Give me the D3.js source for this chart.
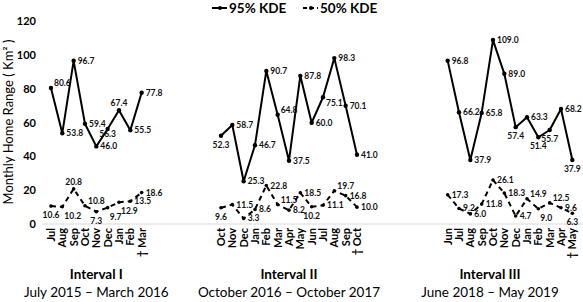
<!DOCTYPE html>
<html>
<head>
<meta charset="utf-8">
<script src="https://cdn.jsdelivr.net/npm/d3@7"></script>
<style>
  body { margin: 0; background: #fff; }
  svg { font-family: Lato, "Open Sans", sans-serif; }
</style>
</head>
<body>
<div id="chart"></div>
<script>
// months per interval ("† " marks the last month)
const months1 = ["Jul", "Aug", "Sep", "Oct", "Nov", "Dec", "Jan", "Feb", "† Mar"];
const months2 = ["Oct", "Nov", "Dec", "Jan", "Feb", "Mar", "Apr", "May", "Jun", "Jul", "Aug", "Sep", "† Oct"];
const months3 = ["Jun", "Jul", "Aug", "Sep", "Oct", "Nov", "Dec", "Jan", "Feb", "Mar", "Apr", "† May"];

// 95% KDE home range (km²)
const kde95_1 = [80.6, 53.8, 96.7, 59.4, 46.0, 56.3, 67.4, 55.5, 77.8];
const kde95_2 = [52.3, 58.7, 25.3, 46.7, 90.7, 64.8, 37.5, 87.8, 60.0, 75.1, 98.3, 70.1, 41.0];
const kde95_3 = [96.8, 66.2, 37.9, 65.8, 109.0, 89.0, 57.4, 63.3, 51.4, 55.7, 68.2, 37.9];

// 50% KDE home range (km²)
const kde50_1 = [10.6, 10.2, 20.8, 10.8, 7.3, 9.7, 12.9, 13.5, 18.6];
const kde50_2 = [9.6, 11.5, 3.3, 8.6, 22.8, 11.5, 8.2, 18.5, 10.2, 11.1, 19.7, 16.8, 10.0];
const kde50_3 = [17.3, 9.2, 6.0, 11.8, 26.1, 18.3, 4.7, 14.9, 9.0, 12.5, 9.6, 6.3];

const intervalNames = ["Interval I", "Interval II", "Interval III"];
const intervalRanges = ["July 2015 \u2013 March 2016", "October 2016 \u2013 October 2017", "June 2018 \u2013 May 2019"];
const yTicks = [0, 20, 40, 60, 80, 100, 120];
const seriesNames = ["95% KDE", "50% KDE"];

// ---- layout ----
const width = 583, height = 302;
const gaps = [6, 7];           // empty category slots between intervals
const titleShift = [0, 0, -20];
// label placement: r = right, ra = right-above, rb = right-below, a = above, b = below, br = below-right, c = centered just below
const place95 = [
    ["ra", "r", "r", "r", "r", "c", "a", "r", "r"],
    ["b", "r", "r", "r", "r", "ra", "r", "r", "r", "rb", "r", "r", "r"],
    ["r", "r", "r", "r", "r", "r", "b", "r", "b", "b", "r", "b"]
];
const place50 = [
    ["b", "br", "a", "ra", "b", "br", "br", "r", "r"],
    ["b", "r", "r", "r", "r", "ra", "r", "r", "b", "r", "ra", "r", "r"],
    ["r", "r", "r", "r", "r", "r", "r", "ra", "br", "ra", "r", "b"]
];

const intervals = [
    {months: months1, k95: kde95_1, k50: kde50_1},
    {months: months2, k95: kde95_2, k50: kde50_2},
    {months: months3, k95: kde95_3, k50: kde50_3}
];

// build slot ids for the band scale
const slots = [];
intervals.forEach((iv, i) => {
    iv.months.forEach((m, j) => slots.push(`m${i}_${j}`));
    if (i < gaps.length) for (let g = 0; g < gaps[i]; g++) slots.push(`gap${i}_${g}`);
});

const x = d3.scaleBand().domain(slots).range([45.3, 578]).padding(0);
const xc = id => x(id) + x.bandwidth() / 2;
const y = d3.scaleLinear().domain([0, 120]).range([224, 21.5]);

const svg = d3.select("#chart").append("svg")
    .attr("width", width)
    .attr("height", height);

// baseline
svg.append("line")
    .attr("x1", 42).attr("x2", width)
    .attr("y1", y(0)).attr("y2", y(0))
    .attr("stroke", "#d9d9d9").attr("stroke-width", 1);

// y tick labels
svg.append("g").selectAll("text")
    .data(yTicks)
    .enter().append("text")
    .attr("x", 36)
    .attr("y", d => y(d))
    .attr("dy", "0.35em")
    .attr("text-anchor", "end")
    .attr("font-size", 11)
    .attr("font-weight", "bold")
    .text(d => d);

// y axis title
svg.append("text")
    .attr("transform", "translate(13,122) rotate(-90)")
    .attr("text-anchor", "middle")
    .attr("font-size", 13)
    .text("Monthly Home Range ( Km\u00b2 )");

const line = d3.line().x(d => d.x).y(d => d.y);

function labelPos(p, k) {
    switch (k) {
        case "ra": return {x: p.x + 3, y: p.y - 5, a: "start"};
        case "rb": return {x: p.x + 3, y: p.y + 6, a: "start"};
        case "a": return {x: p.x, y: p.y - 7, a: "middle"};
        case "b": return {x: p.x, y: p.y + 9, a: "middle"};
        case "c": return {x: p.x, y: p.y + 5, a: "middle"};
        case "br": return {x: p.x + 2, y: p.y + 9, a: "start"};
        default: return {x: p.x + 4, y: p.y, a: "start"};
    }
}

intervals.forEach((iv, i) => {
    const g = svg.append("g");
    const pts95 = iv.k95.map((v, j) => ({x: xc(`m${i}_${j}`), y: y(v), v, k: place95[i][j]}));
    const pts50 = iv.k50.map((v, j) => ({x: xc(`m${i}_${j}`), y: y(v), v, k: place50[i][j]}));

    g.append("path").datum(pts95)
        .attr("d", line).attr("fill", "none")
        .attr("stroke", "#000").attr("stroke-width", 2)
        .attr("stroke-linejoin", "round");
    g.append("path").datum(pts50)
        .attr("d", line).attr("fill", "none")
        .attr("stroke", "#000").attr("stroke-width", 2)
        .attr("stroke-dasharray", "5,4");

    g.selectAll(".m95").data(pts95).enter().append("circle")
        .attr("cx", d => d.x).attr("cy", d => d.y).attr("r", 2.2).attr("fill", "#000");
    g.selectAll(".m50").data(pts50).enter().append("circle")
        .attr("cx", d => d.x).attr("cy", d => d.y).attr("r", 1.8).attr("fill", "#000");

    g.selectAll(".lbl").data(pts95.concat(pts50)).enter().append("text")
        .each(function(d) {
            const p = labelPos(d, d.k);
            d3.select(this).attr("x", p.x).attr("y", p.y).attr("text-anchor", p.a);
        })
        .attr("dy", "0.35em")
        .attr("font-size", 8.5)
        .attr("font-weight", "bold")
        .attr("fill", "#111")
        .text(d => d.v.toFixed(1));

    // month labels
    g.selectAll(".mon").data(iv.months).enter().append("text")
        .attr("transform", (d, j) => `translate(${xc(`m${i}_${j}`) + 4},228) rotate(-90)`)
        .attr("text-anchor", "end")
        .attr("font-size", 11)
        .attr("font-weight", "bold")
        .text(d => d);

    const cx = (xc(`m${i}_0`) + xc(`m${i}_${iv.months.length - 1}`)) / 2 + titleShift[i];
    g.append("text")
        .attr("x", cx).attr("y", 279)
        .attr("text-anchor", "middle")
        .attr("font-size", 13.5).attr("font-weight", "bold")
        .text(intervalNames[i]);
    g.append("text")
        .attr("x", cx).attr("y", 297)
        .attr("text-anchor", "middle")
        .attr("font-size", 13.5)
        .text(intervalRanges[i]);
});

// legend
const legend = svg.append("g");
const legX = [212, 303];
seriesNames.forEach((name, i) => {
    const lg = legend.append("g").attr("transform", `translate(${legX[i]},8)`);
    lg.append("line")
        .attr("x1", 0).attr("x2", 15).attr("y1", 0).attr("y2", 0)
        .attr("stroke", "#000").attr("stroke-width", 2)
        .attr("stroke-dasharray", i === 1 ? "4,3" : null);
    lg.append("circle").attr("cx", 8).attr("cy", 0).attr("r", 2).attr("fill", "#000");
    lg.append("text")
        .attr("x", 17).attr("y", 0).attr("dy", "0.35em")
        .attr("font-size", 13.5).attr("font-weight", "bold")
        .text(name);
});
</script>
</body>
</html>
